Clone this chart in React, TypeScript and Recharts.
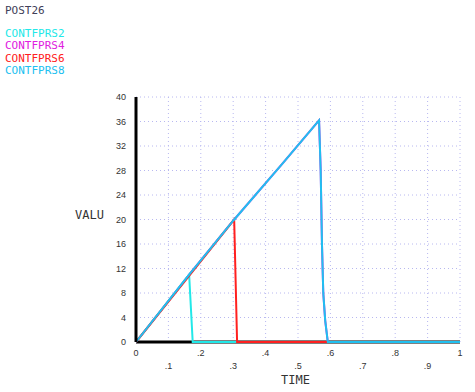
import React from "react";
import { LineChart, Line, XAxis, YAxis, CartesianGrid } from "recharts";

// time / value pairs
const prs2 = [
  { t: 0, v: 0 },
  { t: 0.164, v: 11 },
  { t: 0.175, v: 0 },
  { t: 1, v: 0 },
];
// CONTFPRS4 is hidden under CONTFPRS8 in the picture
const prs4 = [
  { t: 0, v: 0 },
  { t: 0.164, v: 11 },
  { t: 0.3, v: 19.8 },
  { t: 0.45, v: 29 },
  { t: 0.565, v: 36.2 },
  { t: 0.57, v: 28 },
  { t: 0.574, v: 16 },
  { t: 0.578, v: 8 },
  { t: 0.584, v: 3.5 },
  { t: 0.592, v: 0 },
  { t: 1, v: 0 },
];
const prs6 = [
  { t: 0, v: 0 },
  { t: 0.303, v: 20 },
  { t: 0.312, v: 0 },
  { t: 1, v: 0 },
];
const prs8 = [
  { t: 0, v: 0 },
  { t: 0.164, v: 11 },
  { t: 0.3, v: 19.8 },
  { t: 0.45, v: 29 },
  { t: 0.565, v: 36.2 },
  { t: 0.57, v: 28 },
  { t: 0.574, v: 16 },
  { t: 0.578, v: 8 },
  { t: 0.584, v: 3.5 },
  { t: 0.592, v: 0 },
  { t: 1, v: 0 },
];
const baseline = [
  { t: 0, v: 0 },
  { t: 1, v: 0 },
];

const xTicks = [0, 0.1, 0.2, 0.3, 0.4, 0.5, 0.6, 0.7, 0.8, 0.9, 1];
const xLabels = ["0", ".1", ".2", ".3", ".4", ".5", ".6", ".7", ".8", ".9", "1"];
const yTicks = [0, 4, 8, 12, 16, 20, 24, 28, 32, 36, 40];

const legend = [
  { name: "CONTFPRS2", color: "#22e8e8" },
  { name: "CONTFPRS4", color: "#e020e0" },
  { name: "CONTFPRS6", color: "#ff2020" },
  { name: "CONTFPRS8", color: "#20c0f0" },
];

const mono = "'DejaVu Sans Mono', monospace";
const sans = "'Liberation Sans', Arial, sans-serif";

const XTick = (props: any) => {
  const { x, y, index } = props;
  const dy = index % 2 === 0 ? 12 : 25;
  return (
    <text x={x} y={y + dy} textAnchor="middle" fontSize={9} fontFamily={sans} fill="#333">
      {xLabels[index]}
    </text>
  );
};

const YTick = (props: any) => {
  const { x, y, payload } = props;
  return (
    <text x={x - 8} y={y + 3} textAnchor="end" fontSize={9} fontFamily={sans} fill="#333">
      {payload.value}
    </text>
  );
};

export default function App() {
  return (
    <div style={{ position: "absolute", left: 0, top: 0, width: 475, height: 392, background: "#fff" }}>
      <div style={{ position: "absolute", left: 5, top: 5, fontFamily: mono, fontSize: 11, lineHeight: "12.5px" }}>
        <div style={{ color: "#404058", marginBottom: 10 }}>POST26</div>
        {legend.map((l) => (
          <div key={l.name} style={{ color: l.color }}>{l.name}</div>
        ))}
      </div>
      <div style={{ position: "absolute", left: 75, top: 208, fontFamily: mono, fontSize: 12, color: "#333" }}>VALU</div>
      <div style={{ position: "absolute", left: 281, top: 373, fontFamily: mono, fontSize: 12, color: "#333" }}>TIME</div>
      <LineChart width={475} height={392} margin={{ top: 97, right: 15, bottom: 0, left: 0 }}>
        <CartesianGrid stroke="#b8b8f0" strokeDasharray="1 3" horizontal vertical />
        <XAxis
          dataKey="t"
          type="number"
          domain={[0, 1]}
          ticks={xTicks}
          height={50}
          tickLine={false}
          tickSize={0}
          tick={<XTick />}
          axisLine={false}
          interval={0}
        />
        <YAxis
          type="number"
          domain={[0, 40]}
          ticks={yTicks}
          width={136}
          tickLine={false}
          tickSize={0}
          tick={<YTick />}
          axisLine={{ stroke: "#000", strokeWidth: 3 }}
          interval={0}
        />
        <Line data={baseline} dataKey="v" stroke="#000" strokeWidth={3} dot={false} isAnimationActive={false} />
        <Line data={prs4} dataKey="v" stroke="#e020e0" strokeWidth={2} dot={false} isAnimationActive={false} />
        <Line data={prs2} dataKey="v" stroke="#22e8e8" strokeWidth={2} dot={false} isAnimationActive={false} />
        <Line data={prs6} dataKey="v" stroke="#ff2020" strokeWidth={2} dot={false} isAnimationActive={false} />
        <Line data={prs8} dataKey="v" stroke="#20c0f0" strokeWidth={2} dot={false} isAnimationActive={false} />
      </LineChart>
    </div>
  );
}
